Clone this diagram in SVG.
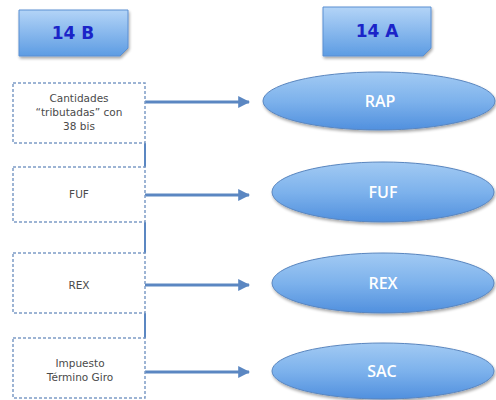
<svg xmlns="http://www.w3.org/2000/svg" width="496" height="400" viewBox="0 0 496 400">
<defs>
<linearGradient id="hdr" x1="0" y1="0" x2="0" y2="1">
<stop offset="0" stop-color="#b3d4f7"/>
<stop offset="1" stop-color="#5d9ce3"/>
</linearGradient>
<linearGradient id="ell" x1="0" y1="0" x2="0" y2="1">
<stop offset="0" stop-color="#a2caf3"/>
<stop offset="0.5" stop-color="#7db2ec"/>
<stop offset="1" stop-color="#5190de"/>
</linearGradient>
<filter id="sh" x="-10%" y="-10%" width="130%" height="140%">
<feGaussianBlur in="SourceAlpha" stdDeviation="1.5"/>
<feOffset dx="1" dy="2"/>
<feComponentTransfer><feFuncA type="linear" slope="0.35"/></feComponentTransfer>
<feMerge><feMergeNode/><feMergeNode in="SourceGraphic"/></feMerge>
</filter>
<marker id="ah" viewBox="0 0 10 10" refX="9" refY="5" markerWidth="4" markerHeight="4" orient="auto" markerUnits="strokeWidth">
<path d="M0,0 L10,5 L0,10 Z" fill="#5b87c2"/>
</marker>
<style>
.hdr{fill:url(#hdr);stroke:#5a8fd2;stroke-width:1;filter:url(#sh)}
.hdrt{font-family:"DejaVu Sans",sans-serif;font-weight:bold;font-size:17px;fill:#1b24c8;text-anchor:middle}
.box{fill:#ffffff;stroke:#7e9cc6;stroke-width:1.5;stroke-dasharray:3,2}
.boxt{font-family:"DejaVu Sans",sans-serif;font-size:10.5px;fill:#4a4a4a;text-anchor:middle}
.ell{fill:url(#ell);stroke:#5a86bf;stroke-width:1;filter:url(#sh)}
.ellt{font-family:"Open Sans",sans-serif;font-size:16px;font-weight:600;fill:#ffffff;text-anchor:middle}
.conn{stroke:#5b87c2;stroke-width:3;fill:none}
.vconn{stroke:#5b87c2;stroke-width:2;fill:none}
</style>
</defs>
<rect width="496" height="400" fill="#ffffff"/>

<g id="hdr-14b">
<path class="hdr" d="M19,10 H128 V48 L120,56 H19 Z"/>
<text class="hdrt" x="73" y="39">14 B</text>
</g>
<g id="hdr-14a">
<path class="hdr" d="M323,7 H431 V48 L423,56 H323 Z"/>
<text class="hdrt" x="377" y="37">14 A</text>
</g>

<g id="connectors">
<line class="vconn" x1="145" y1="143" x2="145" y2="167"/>
<line class="vconn" x1="145" y1="222" x2="145" y2="253"/>
<line class="vconn" x1="145" y1="313" x2="145" y2="338"/>
<line class="conn" x1="145" y1="102" x2="249" y2="102" marker-end="url(#ah)"/>
<line class="conn" x1="145" y1="195" x2="249" y2="195" marker-end="url(#ah)"/>
<line class="conn" x1="145" y1="285" x2="249" y2="285" marker-end="url(#ah)"/>
<line class="conn" x1="145" y1="372" x2="249" y2="372" marker-end="url(#ah)"/>
</g>

<g id="box-cantidades">
<rect class="box" x="13" y="83" width="132" height="60"/>
<text class="boxt" x="79" y="102">Cantidades</text>
<text class="boxt" x="79" y="116">“tributadas” con</text>
<text class="boxt" x="79" y="130">38 bis</text>
</g>
<g id="box-fuf">
<rect class="box" x="13" y="167" width="132" height="55"/>
<text class="boxt" x="79" y="198">FUF</text>
</g>
<g id="box-rex">
<rect class="box" x="13" y="253" width="132" height="60"/>
<text class="boxt" x="79" y="289">REX</text>
</g>
<g id="box-impuesto">
<rect class="box" x="13" y="338" width="132" height="60"/>
<text class="boxt" x="80" y="367">Impuesto</text>
<text class="boxt" x="80" y="381">Término Giro</text>
</g>

<g id="ell-rap">
<ellipse class="ell" cx="379" cy="101" rx="116" ry="29"/>
<text class="ellt" x="380" y="107">RAP</text>
</g>
<g id="ell-fuf">
<ellipse class="ell" cx="383" cy="192" rx="111" ry="30"/>
<text class="ellt" x="383" y="198">FUF</text>
</g>
<g id="ell-rex">
<ellipse class="ell" cx="383" cy="283" rx="111" ry="30"/>
<text class="ellt" x="383" y="289">REX</text>
</g>
<g id="ell-sac">
<ellipse class="ell" cx="383" cy="371" rx="111" ry="28"/>
<text class="ellt" x="382" y="377">SAC</text>
</g>
</svg>
